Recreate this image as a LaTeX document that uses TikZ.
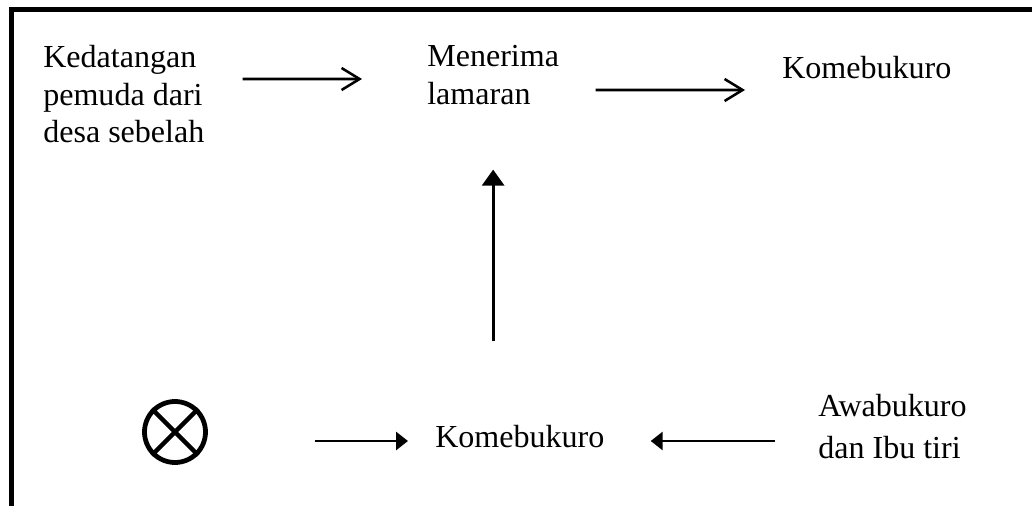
\documentclass[tikz,border=0pt]{standalone}
\usepackage{fontspec}
\setmainfont{Liberation Serif}
\usetikzlibrary{calc}
\usetikzlibrary{arrows.meta}
\usetikzlibrary{positioning}

\begin{document}
\begin{tikzpicture}[
        lbl/.style     = {anchor=base west, inner sep=0pt, align=left, font=\fontsize{22.8}{27}\selectfont},
        openarr/.style = {line width=1.8pt, -{Straight Barb[length=0.45cm, width=0.55cm, line width=1.8pt]}},
        fillarr/.style = {line width=2.1pt, -{Triangle[length=0.30cm, width=0.45cm]}}]
            \useasboundingbox                                              ( 0.000,  0.000) rectangle (25.800,-12.650);
            \draw[line width=3.6pt] (25.800,-0.238) -- (0.288,-0.238) -- (0.288,-12.650);
            % texts (base = last line)
            \node[lbl] (datang) at ( 1.075, -3.575) {Kedatangan\\pemuda dari\\desa sebelah};
            \node[lbl, font=\fontsize{22.8}{27.7}\selectfont] (terima) at (10.675, -2.625) {Menerima\\lamaran};
            \node[lbl] (kome1)  at (19.550, -1.975) {Komebukuro};
            \node[lbl] (kome2)  at (10.875,-11.175) {Komebukuro};
            \node[lbl, font=\fontsize{22.8}{29.2}\selectfont] (awa) at (20.450,-11.450) {Awabukuro\\dan Ibu tiri};
            \node[circle, draw, line width=3.4pt, minimum size=1.525cm, inner sep=0pt] (kosong) at (4.375,-10.800) {};
            \draw[line width=3.2pt] (kosong.45) -- (kosong.225) (kosong.135) -- (kosong.315);
            % arrows
            \draw[openarr, shorten <=0.95cm,  shorten >=1.625cm] ([yshift=1.600cm]datang.base east) -- ([yshift=0.650cm]terima.base west);
            \draw[openarr, shorten <=0.91cm,  shorten >=0.925cm] ([yshift=0.375cm]terima.base east) -- ([yshift=-0.275cm]kome1.base west);
            \draw[line width=2pt, -{Triangle[length=0.40cm, width=0.55cm]}, shorten <=2.075cm, shorten >=1.60cm]
                 (kome2.north -| terima.south) -- (terima.south);
            \draw[fillarr, shorten <=2.675cm, shorten >=0.675cm] ($(kosong.east |- kome2.base)+(0,0.15)$) -- ($(kome2.base west)+(0,0.15)$);
            \draw[fillarr, shorten <=1.075cm, shorten >=1.150cm] ($(awa.west |- kome2.base)+(0,0.15)$) -- ($(kome2.base east)+(0,0.15)$);
        \end{tikzpicture}
\end{document}
